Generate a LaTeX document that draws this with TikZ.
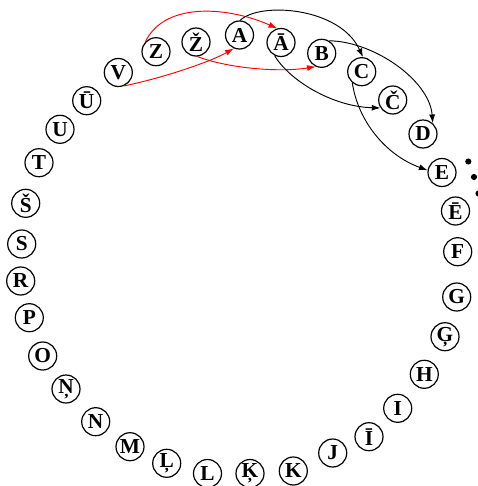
\documentclass[tikz,border=0pt]{standalone}
\usepackage{fontspec}
\setmainfont{Liberation Serif}
\usetikzlibrary{arrows.meta}
\tikzset{
  letter/.style={draw, circle, line width=0.9pt, minimum size=21pt, inner sep=0pt,
    font=\fontsize{16}{16}\selectfont\bfseries},
  link/.style={line width=0.7pt, -{Latex[length=6.5pt,width=4.5pt]}},
  wrap/.style={link, draw=red},
  plain/.style={link, draw=black},
  dotmark/.style={fill=black, circle, inner sep=0pt, minimum size=4.6pt}
}
\begin{document}
\begin{tikzpicture}[x=0.75pt,y=-0.75pt]
\useasboundingbox (0,0) rectangle (478,486);
\node[letter] (V)  at (118.3,72.5) {V};
\node[letter] (Z)  at (156,51.7) {Z};
\node[letter] (Zc) at (196,42) {Ž};
\node[letter] (A)  at (239.5,35) {A};
\node[letter] (Aa) at (281,42.5) {Ā};
\node[letter] (B)  at (321.7,53.3) {B};
\node[letter] (C)  at (361.7,71.7) {C};
\node[letter] (Cc) at (392.7,100) {Č};
\node[letter] (D)  at (423,134) {D};
\node[letter] (E)  at (442,172.5) {E};
\node[letter] (Ee) at (455.5,211) {Ē};
\node[letter] (F)  at (457.7,251.7) {F};
\node[letter] (G)  at (456.7,297) {G};
\node[letter] (Gc) at (445,336.7) {Ģ};
\node[letter] (H)  at (424.3,374.3) {H};
\node[letter] (I)  at (397.7,408.3) {I};
\node[letter] (Ii) at (369,436.7) {Ī};
\node[letter] (J)  at (332.7,453) {J};
\node[letter] (K)  at (293.3,471) {K};
\node[letter] (Kc) at (250,473.5) {Ķ};
\node[letter] (L)  at (207.5,473.5) {L};
\node[letter] (Lc) at (166.7,463.3) {Ļ};
\node[letter] (M)  at (130,446.7) {M};
\node[letter] (N)  at (95.7,421.7) {N};
\node[letter] (Nc) at (66,389) {Ņ};
\node[letter] (O)  at (42.7,356) {O};
\node[letter] (P)  at (29.3,317.7) {P};
\node[letter] (R)  at (20.7,281) {R};
\node[letter] (S)  at (21.7,244) {S};
\node[letter] (Sc) at (25.7,203.3) {Š};
\node[letter] (T)  at (39,162.7) {T};
\node[letter] (U)  at (60,129.3) {U};
\node[letter] (Uu) at (86.7,100.7) {Ū};
% dots
\node[dotmark] (d1) at (468.3,161.5) {};
\node[dotmark] (d2) at (474,177) {};
\node[dotmark] (d3) at (478.5,193.5) {};
% red wrap-around arrows
\draw[wrap] (Z.136) .. controls +(20,-41) and +(-47,-21) .. (Aa.105);
\draw[wrap] (V.-67) .. controls +(40,-8.3) and +(-23.3,13.3) .. (A.247);
\draw[wrap] (Zc.-85) .. controls +(32.7,12.3) and +(-35,5.7) .. (B.246);
% black arrows
\draw[plain] (A.88) .. controls +(20,-19) and +(-23,-50) .. (C.85);
\draw[plain] (Aa.244) .. controls +(15,25) and +(-48,-1.3) .. (Cc.213);
\draw[plain] (B.59) .. controls +(45,0.7) and +(-3.3,-42.7) .. (D.48);
\draw[plain] (C.230) .. controls +(5.7,38.3) and +(-41.7,-15) .. (E.171);
\end{tikzpicture}
\end{document}
